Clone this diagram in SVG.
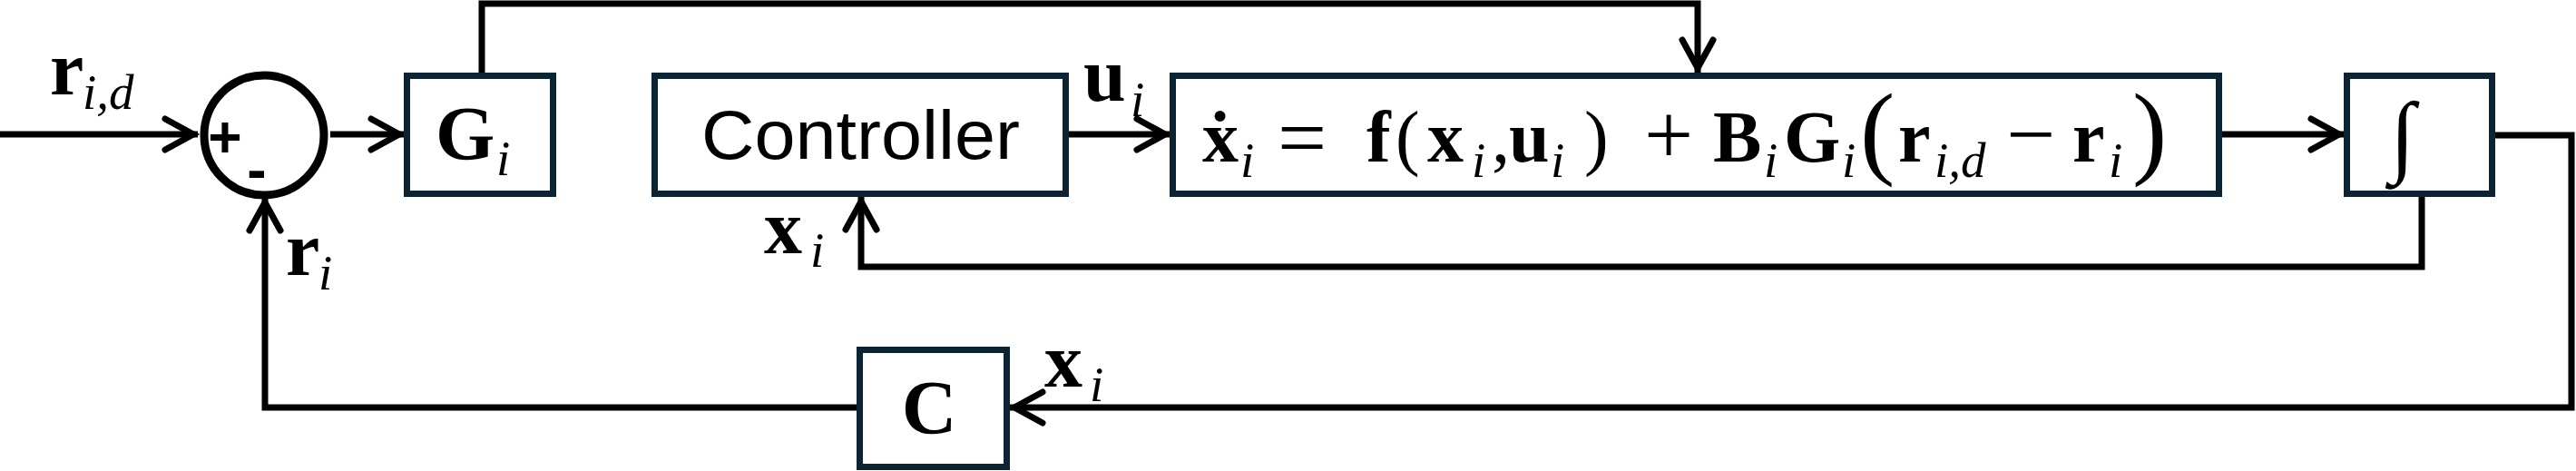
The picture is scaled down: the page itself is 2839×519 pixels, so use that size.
<svg xmlns="http://www.w3.org/2000/svg" width="2839" height="519" viewBox="0 0 2839 519">
<style>
.box{fill:#fff;stroke:#0b2333;stroke-width:7}
.wire{fill:none;stroke:#000;stroke-width:7;stroke-linejoin:miter;stroke-linecap:butt}
.math{font-family:"Liberation Serif","DejaVu Serif",serif;font-size:80px;fill:#000}
.lbl{font-size:84px}
.b{font-weight:bold}
.si{font-style:italic;font-size:55px}
.op{font-size:96px}
.big{font-size:115px}
.sans{font-family:"Liberation Sans",Arial,sans-serif;font-size:76px;fill:#000}
.sign{font-family:"Liberation Sans",Arial,sans-serif;font-weight:bold;font-size:64px;fill:#000}
</style>
<defs>
<marker id="ah" markerUnits="userSpaceOnUse" markerWidth="50" markerHeight="50" refX="0" refY="0" orient="auto" overflow="visible">
<path d="M-36,-17 L-5,0 L-36,17" fill="none" stroke="#000" stroke-width="7" stroke-linecap="round" stroke-linejoin="miter"/>
</marker>
</defs>

<g id="connectors">
<path class="wire" d="M0,148 H218" marker-end="url(#ah)"/>
<path class="wire" d="M364,148 H445" marker-end="url(#ah)"/>
<path class="wire" d="M531,80 V4 H1871 V80" marker-end="url(#ah)"/>
<path class="wire" d="M1178,148 H1289" marker-end="url(#ah)"/>
<path class="wire" d="M2449,148 H2583" marker-end="url(#ah)"/>
<path class="wire" d="M2669,217 V294 H949 V217" marker-end="url(#ah)"/>
<path class="wire" d="M2750,149 H2834 V449 H1113" marker-end="url(#ah)"/>
<path class="wire" d="M944,449 H292 V218" marker-end="url(#ah)"/>
</g>

<g id="label-rid">
<text class="math lbl"><tspan class="b" x="55" y="104">r</tspan><tspan class="si" x="91" y="120">i,d</tspan></text>
</g>
<g id="label-ri">
<text class="math lbl"><tspan class="b" x="315" y="303">r</tspan><tspan class="si" x="351" y="319">i</tspan></text>
</g>
<g id="label-ui">
<text class="math lbl"><tspan class="b" x="1194" y="111">u</tspan><tspan class="si" x="1246" y="128">i</tspan></text>
</g>
<g id="label-xi-ctrl">
<text class="math lbl"><tspan class="b" x="842" y="279">x</tspan><tspan class="si" x="893" y="294">i</tspan></text>
</g>
<g id="label-xi-c">
<text class="math lbl"><tspan class="b" x="1151" y="426">x</tspan><tspan class="si" x="1201" y="442">i</tspan></text>
</g>

<g id="sum">
<circle cx="291" cy="149" r="66" fill="none" stroke="#000" stroke-width="9"/>
<text class="sign" x="248" y="173" text-anchor="middle">+</text>
<text class="sign" x="283" y="209" text-anchor="middle">-</text>
</g>

<g id="gain">
<rect class="box" x="448.5" y="83.5" width="161" height="130"/>
<text class="math lbl"><tspan class="b" x="480" y="176">G</tspan><tspan class="si" x="547" y="193">i</tspan></text>
</g>

<g id="controller">
<rect class="box" x="721.5" y="83.5" width="453" height="130"/>
<text class="sans" x="773" y="175" textLength="351" lengthAdjust="spacingAndGlyphs">Controller</text>
</g>

<g id="plant">
<rect class="box" x="1292.5" y="83.5" width="1153" height="130"/>
<text class="math"><tspan class="b" x="1325" y="178">ẋ</tspan><tspan class="si" x="1367" y="195">i</tspan><tspan class="op" x="1408" y="184">=</tspan><tspan class="b" x="1506" y="178">f</tspan><tspan x="1538" y="178">(</tspan><tspan class="b" x="1573" y="178">x</tspan><tspan class="si" x="1622" y="195">i</tspan><tspan x="1644" y="178">,</tspan><tspan class="b" x="1663" y="178">u</tspan><tspan class="si" x="1709" y="195">i</tspan><tspan x="1746" y="178">)</tspan><tspan class="op" x="1812" y="180">+</tspan><tspan class="b" x="1888" y="178">B</tspan><tspan class="si" x="1944" y="195">i</tspan><tspan class="b" x="1966" y="178">G</tspan><tspan class="si" x="2030" y="195">i</tspan><tspan class="big" x="2050" y="182">(</tspan><tspan class="b" x="2092" y="178">r</tspan><tspan class="si" x="2132" y="195">i,d</tspan><tspan class="op" x="2211" y="180">−</tspan><tspan class="b" x="2284" y="178">r</tspan><tspan class="si" x="2324" y="195">i</tspan><tspan class="big" x="2350" y="182">)</tspan></text>
</g>

<g id="integrator">
<rect class="box" x="2586.5" y="83.5" width="160" height="130"/>
<text class="math" x="2648" y="182" text-anchor="middle" style="font-size:100px">∫</text>
</g>

<g id="output-map">
<rect class="box" x="947.5" y="385.5" width="162" height="129"/>
<text class="math lbl b" x="1024" y="478" text-anchor="middle">C</text>
</g>
</svg>
